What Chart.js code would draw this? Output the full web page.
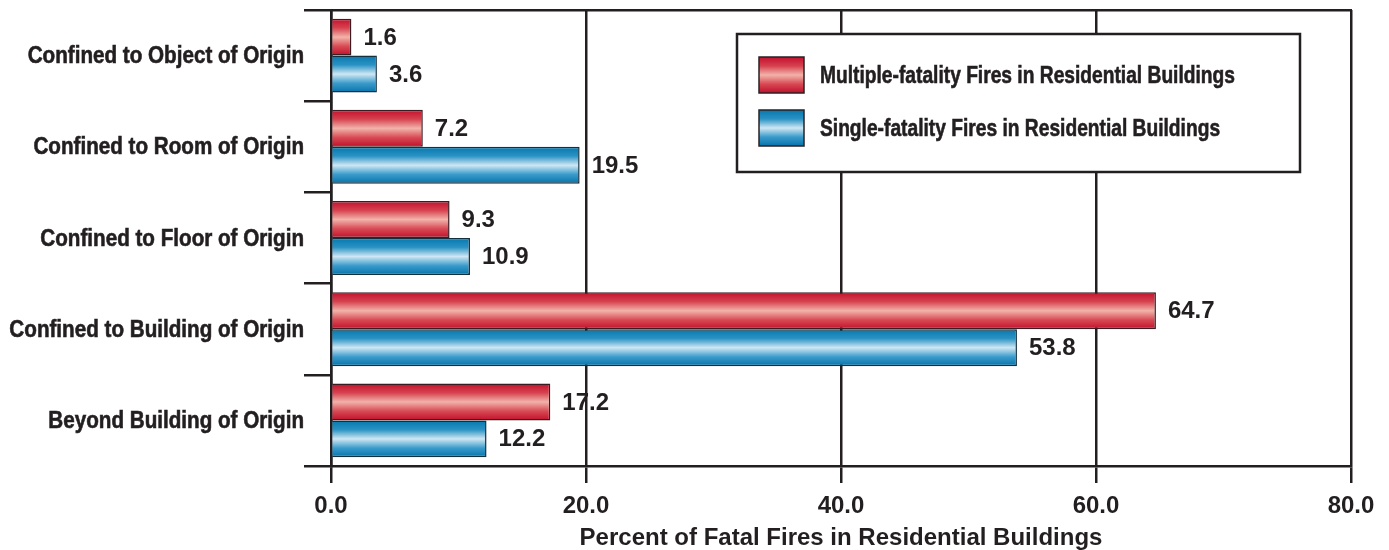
<!DOCTYPE html>
<html>
<head>
<meta charset="utf-8">
<script src="https://cdn.jsdelivr.net/npm/chart.js@4.4.1/dist/chart.umd.min.js"></script>
<style>
  html, body { margin: 0; padding: 0; background: #fff; }
  #wrap { width: 1389px; height: 550px; }
</style>
</head>
<body>
<div id="wrap"><canvas id="chart"></canvas></div>
<script>
const categories = [
  'Confined to Object of Origin',
  'Confined to Room of Origin',
  'Confined to Floor of Origin',
  'Confined to Building of Origin',
  'Beyond Building of Origin'
];
const multipleFatality = [1.6, 7.2, 9.3, 64.7, 17.2];
const singleFatality = [3.6, 19.5, 10.9, 53.8, 12.2];
const xTicks = [0, 20, 40, 60, 80];

const INK = '#231f20';
const SANS = "'Liberation Sans', Arial, sans-serif";
// no narrow face installed, so the bold one gets squeezed sideways
const SQUEEZE_CAT = 0.86;
const SQUEEZE_KEY = 0.80;

// dark edges, pale band through the middle -> tube look
const SHADES = {
  red:  ['#c3102d', '#d6424f', '#f2b3aa', '#d84a54', '#c10f2b'],
  blue: ['#0677ad', '#2a92c4', '#cfe7f3', '#3a9bcb', '#0573aa']
};
const STOPS = [0, 0.25, 0.5, 0.75, 1];

function tube(ctx, top, bottom, shade) {
  const g = ctx.createLinearGradient(0, top, 0, bottom);
  shade.forEach((c, i) => g.addColorStop(STOPS[i], c));
  return g;
}

// squeezed text with a hairline stroke so it reads heavier
function narrowText(ctx, text, x, y, align, squeeze) {
  ctx.save();
  ctx.translate(x, y);
  ctx.scale(squeeze, 1);
  ctx.textAlign = align;
  ctx.fillText(text, 0, 0);
  ctx.strokeStyle = ctx.fillStyle;
  ctx.lineWidth = 0.6;
  ctx.strokeText(text, 0, 0);
  ctx.restore();
}

// each bar gets its own vertical gradient once the layout is known
const tubeFill = {
  id: 'tubeFill',
  beforeDatasetsDraw(chart) {
    const ctx = chart.ctx;
    chart.data.datasets.forEach((ds, di) => {
      chart.getDatasetMeta(di).data.forEach(bar => {
        const half = bar.height / 2;
        bar.options = Object.assign({}, bar.options, {
          backgroundColor: tube(ctx, bar.y - half, bar.y + half, ds.shade)
        });
      });
    });
  }
};

const valueLabels = {
  id: 'valueLabels',
  afterDatasetsDraw(chart) {
    const ctx = chart.ctx;
    ctx.save();
    ctx.font = 'bold 24px ' + SANS;
    ctx.fillStyle = INK;
    ctx.textBaseline = 'middle';
    ctx.textAlign = 'left';
    chart.data.datasets.forEach((ds, di) => {
      chart.getDatasetMeta(di).data.forEach((bar, i) => {
        ctx.fillText(ds.data[i].toFixed(1), bar.x + 12, bar.y + 1);
      });
    });
    ctx.restore();
  }
};

// category names in the condensed style, right-aligned to the tick marks
const categoryLabels = {
  id: 'categoryLabels',
  afterDraw(chart) {
    const ctx = chart.ctx;
    const y = chart.scales.y;
    ctx.save();
    ctx.font = 'bold 24px ' + SANS;
    ctx.fillStyle = INK;
    ctx.textBaseline = 'middle';
    chart.data.labels.forEach((lab, i) => {
      narrowText(ctx, lab, y.right - 27, y.getPixelForTick(i) + 1, 'right', SQUEEZE_CAT);
    });
    ctx.restore();
  }
};

// boxed legend sitting inside the plot, upper right
const boxLegend = {
  id: 'boxLegend',
  afterDraw(chart) {
    const ctx = chart.ctx;
    const left = 737, top = 34, w = 563, h = 138;
    ctx.save();
    ctx.fillStyle = '#fff';
    ctx.fillRect(left, top, w, h);
    ctx.lineWidth = 2.5;
    ctx.strokeStyle = INK;
    ctx.strokeRect(left, top, w, h);
    ctx.font = 'bold 24px ' + SANS;
    ctx.textBaseline = 'middle';
    chart.data.datasets.forEach((ds, i) => {
      const sy = top + 23 + i * 53;
      const sh = 36;
      ctx.fillStyle = tube(ctx, sy, sy + sh, ds.shade);
      ctx.fillRect(left + 22, sy, 45, sh);
      ctx.lineWidth = 1.5;
      ctx.strokeStyle = '#2a2224';
      ctx.strokeRect(left + 22, sy, 45, sh);
      ctx.fillStyle = INK;
      narrowText(ctx, ds.label, left + 83, sy + sh / 2 + 1, 'left', SQUEEZE_KEY);
    });
    ctx.restore();
  }
};

new Chart(document.getElementById('chart'), {
  type: 'bar',
  data: {
    labels: categories,
    datasets: [
      {
        label: 'Multiple-fatality Fires in Residential Buildings',
        data: multipleFatality,
        shade: SHADES.red,
        backgroundColor: SHADES.red[0],
        borderColor: '#3a1c22',
        borderWidth: 1.5
      },
      {
        label: 'Single-fatality Fires in Residential Buildings',
        data: singleFatality,
        shade: SHADES.blue,
        backgroundColor: SHADES.blue[0],
        borderColor: '#14303f',
        borderWidth: 1.5
      }
    ]
  },
  options: {
    indexAxis: 'y',
    responsive: true,
    maintainAspectRatio: false,
    animation: false,
    categoryPercentage: 0.81,
    barPercentage: 1,
    layout: { padding: { top: 10, right: 38, bottom: 0, left: 0 } },
    plugins: {
      legend: { display: false },
      tooltip: { enabled: false }
    },
    scales: {
      x: {
        min: 0,
        max: 80,
        afterBuildTicks: s => { s.ticks = xTicks.map(v => ({ value: v })); },
        afterFit: s => { s.height = 84; },
        ticks: {
          callback: v => v.toFixed(1),
          color: INK,
          padding: 9,
          maxRotation: 0,
          font: { family: SANS, size: 24, weight: 'bold' }
        },
        grid: { color: INK, lineWidth: 2.5, tickLength: 17 },
        border: { color: INK, width: 2.5 },
        title: {
          display: true,
          text: 'Percent of Fatal Fires in Residential Buildings',
          color: INK,
          padding: { top: 0, bottom: -3 },
          font: { family: SANS, size: 24, weight: 'bold' }
        }
      },
      xTop: {
        position: 'top',
        min: 0,
        max: 80,
        afterFit: s => { s.height = 0; },
        grid: { display: false },
        ticks: { display: false },
        border: { display: true, color: INK, width: 2.5 }
      },
      y: {
        afterFit: s => { s.width = 331; },
        grid: {
          offset: true,
          drawOnChartArea: false,
          tickLength: 27,
          color: INK,
          lineWidth: 2.5
        },
        border: { color: INK, width: 2.5 },
        ticks: { display: false }
      }
    }
  },
  plugins: [tubeFill, valueLabels, categoryLabels, boxLegend]
});
</script>
</body>
</html>
